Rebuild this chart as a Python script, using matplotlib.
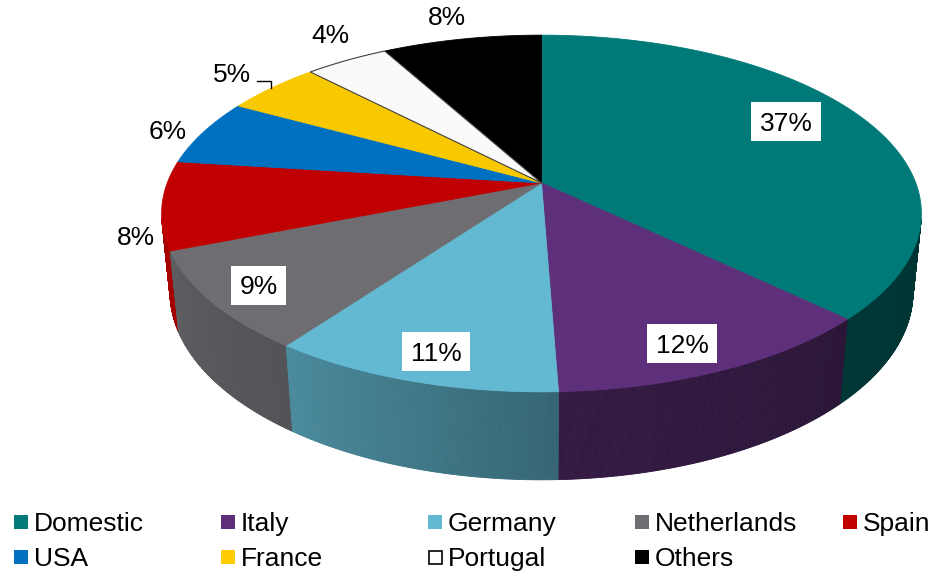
import numpy as np
import matplotlib
matplotlib.use("Agg")
import matplotlib.pyplot as plt
from matplotlib.patches import Polygon, Rectangle
from matplotlib.colors import to_rgb

# ---------------- data ----------------
categories = ["Domestic", "Italy", "Germany", "Netherlands", "Spain",
              "USA", "France", "Portugal", "Others"]
shares = [37.2, 12.2, 10.6, 9.0, 8.0, 6.0, 4.8, 4.2, 8.0]
colors = ["#007a78", "#5e2f7a", "#62b9d1", "#6e6d72", "#c00000",
          "#0070c0", "#f8c800", "#fafafa", "#000000"]
legend_colors = ["#007a78", "#5e2f7a", "#62b9d1", "#6e6d72", "#c00000",
                 "#0070c0", "#ffcc00", "#ffffff", "#000000"]
labels = [f"{v:.0f}%" for v in shares]

# ---------------- layout ----------------
FONT = "Liberation Sans"
FS = 19
plt.rcParams["font.family"] = [FONT, "DejaVu Sans"]

fig = plt.figure(figsize=(9.34, 5.71), dpi=100)
ax = fig.add_axes([0, 0, 1, 1])
ax.set_xlim(0, 934)
ax.set_ylim(571, 0)
ax.axis("off")

# perspective projection of a disc (radius 1, thickness H)
E = np.radians(27.9)
SE, CE = np.sin(E), np.cos(E)
D = 5.17
FX, FY = 1935.0, 1913.0
CX, CY = 541.5, 183.0
H = 0.243


def proj(theta_deg, r=1.0, z=0.0):
    t = np.radians(theta_deg)
    x = r * np.sin(t)
    y = r * np.cos(t)
    yc = y * SE + z * CE
    dep = D + y * CE - z * SE
    return CX + FX * x / dep, CY - FY * yc / dep, dep


total = sum(shares)
bounds = np.concatenate([[0], np.cumsum(shares) / total * 360.0])

# side shading factor by angle (clockwise from far point)
shade_t = [90, 134, 178, 216, 250, 280]
shade_f = [0.42, 0.45, 0.55, 0.75, 0.86, 0.88]

quads = []
step = 0.25
for i, c in enumerate(colors):
    a0, a1 = bounds[i], bounds[i + 1]
    base = np.array(to_rgb(c))
    th = np.arange(a0, a1, step)
    th = np.append(th, a1)
    for ta, tb in zip(th[:-1], th[1:]):
        tm = 0.5 * (ta + tb)
        if np.cos(np.radians(tm)) > -1.0 / (D * CE) + 0.02:
            continue
        f = np.interp(tm, shade_t, shade_f)
        col = np.clip(base * f, 0, 1)
        x1, y1, _ = proj(ta, 1, 0)
        x2, y2, _ = proj(tb, 1, 0)
        x3, y3, _ = proj(tb, 1, -H)
        x4, y4, _ = proj(ta, 1, -H)
        _, _, dm = proj(tm, 1, -H / 2)
        quads.append((dm, [(x1, y1), (x2, y2), (x3, y3), (x4, y4)], col))

quads.sort(key=lambda q: -q[0])
for _, pts, col in quads:
    ax.add_patch(Polygon(pts, closed=True, facecolor=col, edgecolor=col,
                         lw=0.6, zorder=1))

# top faces
cx0, cy0, _ = proj(0, 0, 0)
for i, c in enumerate(colors):
    a0, a1 = bounds[i], bounds[i + 1]
    th = np.linspace(a0, a1, max(int((a1 - a0) * 2), 4))
    pts = [(cx0, cy0)] + [proj(t, 1, 0)[:2] for t in th]
    if c.lower() == "#fafafa":
        ax.add_patch(Polygon(pts, closed=True, facecolor=c, edgecolor="#404040",
                             lw=0.8, zorder=3))
    else:
        ax.add_patch(Polygon(pts, closed=True, facecolor=c, edgecolor=c,
                             lw=0.6, zorder=2))

# data labels (pixel centres of the label texts)
label_pos = [(786, 121.5), (682, 343.5), (436, 351.5), (258.5, 285),
             (136, 236), (168, 130), (232, 73), (330, 34), (447, 15.5)]
boxed = [True, True, True, True, False, False, False, False, False]
CAP = 0.716 * FS * 100 / 72.0

fig.canvas.draw()
renderer = fig.canvas.get_renderer()
for lab, (px, py), bx in zip(labels, label_pos, boxed):
    t = ax.text(px, py + CAP / 2, lab, ha="center", va="baseline",
                fontsize=FS, color="black", zorder=6)
    if bx:
        ext = t.get_window_extent(renderer)
        w = ext.width + 17
        hgt = 39
        ax.add_patch(Rectangle((px - w / 2, py - hgt / 2), w, hgt,
                               facecolor="white", edgecolor="none", zorder=5))

# leader line for France label
fr = categories.index("France")
lx, ly, _ = proj(0.5 * (bounds[fr] + bounds[fr + 1]), 1, 0)
ax.plot([257, lx - 1, lx - 1], [81, 81, ly], color="black", lw=1.0, zorder=6)

# legend
col_x = [14, 221, 428, 635, 843]
row_y = [522, 557]
SQ = 14
for k, (name, lc) in enumerate(zip(categories, legend_colors)):
    r, cidx = divmod(k, 5)
    x0 = col_x[cidx]
    yc = row_y[r]
    if name == "Portugal":
        ax.add_patch(Rectangle((x0 + 0.5, yc - SQ / 2 + 0.5), SQ - 1, SQ - 1,
                               facecolor="white", edgecolor="black", lw=1.2,
                               zorder=5))
    else:
        ax.add_patch(Rectangle((x0, yc - SQ / 2), SQ, SQ, facecolor=lc,
                               edgecolor="none", zorder=5))
    ax.text(x0 + 20, yc + CAP / 2, name, ha="left", va="baseline",
            fontsize=FS, color="black", zorder=6)

fig.savefig("out.png", dpi=100)
